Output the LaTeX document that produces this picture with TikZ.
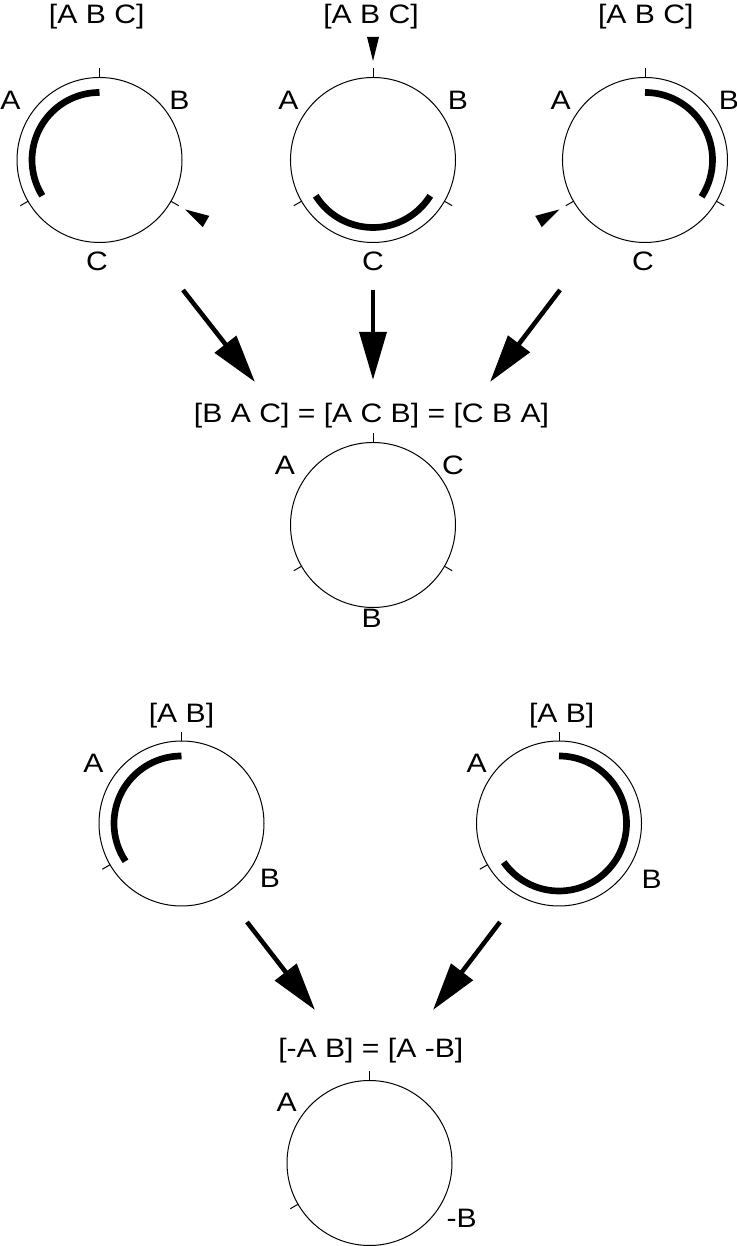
\documentclass[tikz,border=0pt]{standalone}
\usepackage{fontspec}
\setmainfont[FakeStretch=1.13]{Liberation Sans}
\usetikzlibrary{arrows.meta,calc}
\begin{document}
\begin{tikzpicture}[x=0.75pt,y=0.75pt,
  ring/.style={draw, circle, line width=0.75pt, minimum size=123.75pt, inner sep=0pt, outer sep=0pt},
  lbl/.style={anchor=base, inner sep=0pt, font=\fontsize{20}{24}\selectfont},
  tickline/.style={line width=0.75pt},
  band/.style={line width=5pt},
  bigarrow/.style={line width=3.4pt, -{Triangle[length=36pt,width=20pt]}},
  marker/.style={fill=black}]
\useasboundingbox (0,0) rectangle (737,1246);

% circles
\node[ring] (c1) at (99.5,1086) {};
\node[ring] (c2) at (373,1086) {};
\node[ring] (c3) at (645,1086) {};
\node[ring] (c4) at (373,721) {};
\node[ring] (c5) at (181.5,422.5) {};
\node[ring] (c6) at (559,422.5) {};
\node[ring] (c7) at (369.5,83) {};

% ticks
\foreach \c/\a in {c1/90,c1/210,c1/330,c2/90,c2/210,c2/330,c3/90,c3/210,c3/330,
                   c4/90,c4/210,c4/330,c5/90,c5/210,c6/90,c6/210,c7/90,c7/210}
  \draw[tickline] (\c.\a) -- ($(\c.center)+(\a:91.5)$);

% thick bands
\draw[band] ($(c1.center)+(90:67.5)$) arc[start angle=90, end angle=212, radius=67.5];
\draw[band] ($(c2.center)+(212:67.5)$) arc[start angle=212, end angle=328, radius=67.5];
\draw[band] ($(c3.center)+(90:67.5)$) arc[start angle=90, end angle=-33, radius=67.5];
\draw[band] ($(c5.center)+(90:67.5)$) arc[start angle=90, end angle=214, radius=67.5];
\draw[band] ($(c6.center)+(90:67.5)$) arc[start angle=90, end angle=-145, radius=67.5];

% small markers
\fill[marker] ($(c1.center)+(330:99)$) -- ($(c1.center)+(330:123)+(60:6.5)$) -- ($(c1.center)+(330:123)+(240:6.5)$) -- cycle;
\fill[marker] ($(c2.center)+(90:99)$) -- ($(c2.center)+(90:123)+(0:6)$) -- ($(c2.center)+(90:123)+(180:6)$) -- cycle;
\fill[marker] ($(c3.center)+(210:99)$) -- ($(c3.center)+(210:123)+(120:6.5)$) -- ($(c3.center)+(210:123)+(300:6.5)$) -- cycle;

% labels
\node[lbl] (t1) at (96.7,1222.7) {[A B C]};
\node[lbl] (t2) at (371,1222.7) {[A B C]};
\node[lbl] (t3) at (645.8,1222.7) {[A B C]};
\node[lbl] (a1) at (10.3,1136) {A};
\node[lbl] (b1) at (179.5,1136) {B};
\node[lbl] (k1) at (97,975) {C};
\node[lbl] (a2) at (288.3,1136) {A};
\node[lbl] (b2) at (457.8,1136) {B};
\node[lbl] (k2) at (373,975) {C};
\node[lbl] (a3) at (560.7,1136) {A};
\node[lbl] (b3) at (729,1136) {B};
\node[lbl] (k3) at (643,975) {C};

\node[lbl] (t4) at (371.5,823) {[B A C] = [A C B] = [C B A]};
\node[lbl] (a4) at (285,771) {A};
\node[lbl] (k4) at (453,771) {C};
\node[lbl] (b4) at (371.7,618) {B};

\node[lbl] (t5) at (181.5,523) {[A B]};
\node[lbl] (a5) at (93.3,473) {A};
\node[lbl] (b5) at (270,358) {B};
\node[lbl] (t6) at (561.7,523) {[A B]};
\node[lbl] (a6) at (476.7,473) {A};
\node[lbl] (b6) at (651.7,357.5) {B};

\node[lbl] (t7) at (370.8,188) {[-A B] = [A -B]};
\node[lbl] (a7) at (286.7,134.3) {A};
\node[lbl] (b7) at (461.7,18) {-B};

% arrows
\coordinate (s1) at (183,956);  \coordinate (e1) at (255,864);
\coordinate (s2) at (373,956);  \coordinate (e2) at (373,866);
\coordinate (s3) at (560,956);  \coordinate (e3) at (490,864);
\coordinate (s4) at (247,324);  \coordinate (e4) at (315,236);
\coordinate (s5) at (500,324);  \coordinate (e5) at (433,236);
\draw[bigarrow] (s1) -- (e1);
\draw[bigarrow] (s2) -- (e2);
\draw[bigarrow] (s3) -- (e3);
\draw[bigarrow] (s4) -- (e4);
\draw[bigarrow] (s5) -- (e5);
\end{tikzpicture}
\end{document}
